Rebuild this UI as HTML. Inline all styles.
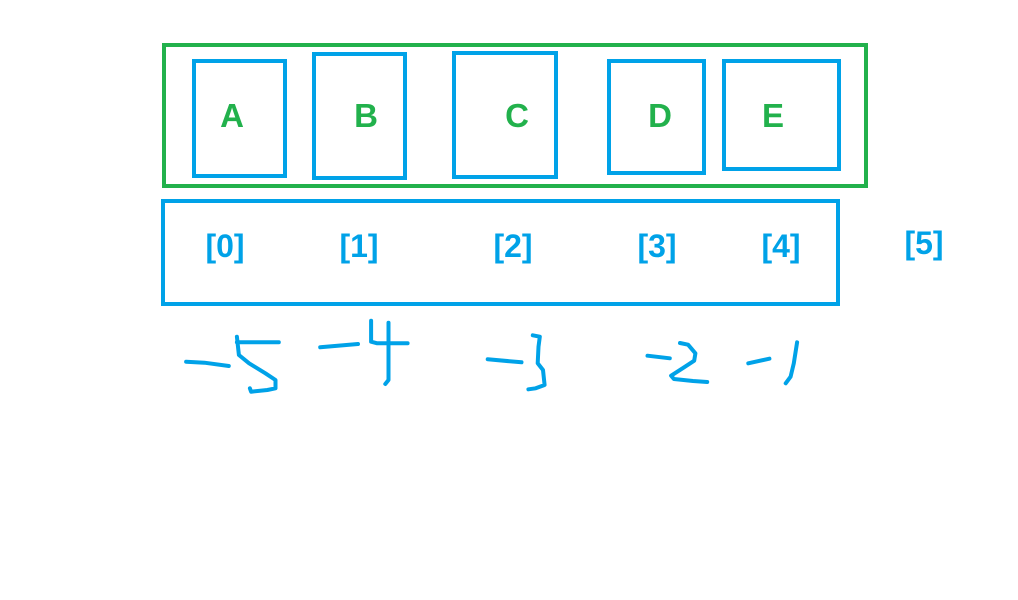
<!DOCTYPE html>
<html><head><meta charset="utf-8"><style>
html,body{margin:0;padding:0;background:#fff;width:1018px;height:600px;overflow:hidden}
svg{display:block}
.lt{font-family:"Liberation Sans",sans-serif;font-weight:bold;font-size:33px;fill:#22b14c}
.ix{font-family:"Liberation Sans",sans-serif;font-weight:bold;font-size:32px;fill:#00a2e8}
</style></head><body>
<svg id="s" width="1018" height="600" viewBox="0 0 1018 600">
<rect x="164" y="45" width="702" height="141" fill="none" stroke="#22b14c" stroke-width="4"/>
<rect x="194" y="61" width="91" height="115" fill="none" stroke="#00a2e8" stroke-width="4"/>
<rect x="314" y="54" width="91" height="124" fill="none" stroke="#00a2e8" stroke-width="4"/>
<rect x="454" y="53" width="102" height="124" fill="none" stroke="#00a2e8" stroke-width="4"/>
<rect x="609" y="61" width="95" height="112" fill="none" stroke="#00a2e8" stroke-width="4"/>
<rect x="724" y="61" width="115" height="108" fill="none" stroke="#00a2e8" stroke-width="4"/>
<text class="lt" x="232" y="127" text-anchor="middle">A</text>
<text class="lt" x="366" y="127" text-anchor="middle">B</text>
<text class="lt" x="517" y="127" text-anchor="middle">C</text>
<text class="lt" x="660" y="127" text-anchor="middle">D</text>
<text class="lt" x="773" y="127" text-anchor="middle">E</text>
<rect x="163" y="201" width="675" height="103" fill="none" stroke="#00a2e8" stroke-width="4"/>
<text class="ix" x="225" y="257" text-anchor="middle">[0]</text>
<text class="ix" x="359" y="257" text-anchor="middle">[1]</text>
<text class="ix" x="513" y="257" text-anchor="middle">[2]</text>
<text class="ix" x="657" y="257" text-anchor="middle">[3]</text>
<text class="ix" x="781" y="257" text-anchor="middle">[4]</text>
<text class="ix" x="924" y="254" text-anchor="middle">[5]</text>
<g id="hw" fill="none" stroke="#00a2e8" stroke-width="4" stroke-linecap="round" stroke-linejoin="round"></g>
</svg>
<script>
const negLabels=["-5","-4","-3","-2","-1"];
const strokes=[
 [[[15,155],[60,158],[120,168]],[[140,97],[243,97]],[[140,80],[145,135],[170,160],[210,190],[235,210],[235,235],[215,240],[175,245],[172,235]]],
 [[[345,112],[438,102]],[[470,32],[470,95],[485,100],[560,100]],[[513,38],[513,210],[505,222]]],
 [[[757,148],[840,157]],[[868,76],[885,80],[882,110],[880,160],[893,180],[897,225],[875,235],[857,238]]],
 [[[1150,137],[1205,145]],[[1230,99],[1250,104],[1268,130],[1265,152],[1240,172],[1208,197],[1215,207],[1262,213],[1297,216]]],
 [[[1398,160],[1450,146]],[[1518,97],[1510,160],[1502,200],[1490,220]]]
];
const g=document.getElementById('hw');
const sx=v=>180+v/2.46, sy=v=>310+v/3;
strokes.forEach((grp,i)=>{
 const gg=document.createElementNS('http://www.w3.org/2000/svg','g');
 
 
 const t=document.createElementNS('http://www.w3.org/2000/svg','title');
 t.textContent=negLabels[i];gg.appendChild(t);
 grp.forEach(p=>{
  const pl=document.createElementNS('http://www.w3.org/2000/svg','polyline');
  pl.setAttribute('points',p.map(q=>sx(q[0]).toFixed(1)+','+sy(q[1]).toFixed(1)).join(' '));
  
  
  gg.appendChild(pl);
 });
 g.appendChild(gg);
});
</script>
</body></html>
